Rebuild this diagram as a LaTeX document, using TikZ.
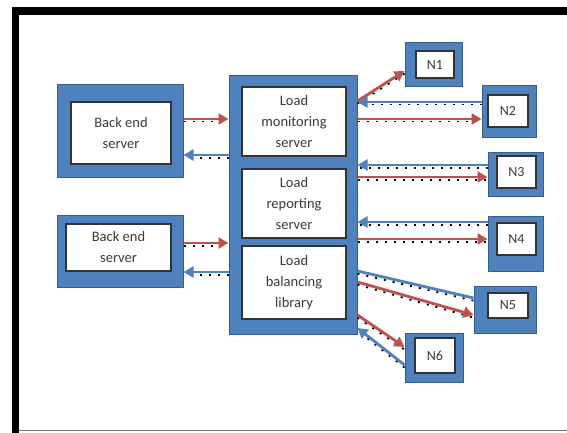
\documentclass[tikz,border=0pt]{standalone}
\usepackage{fontspec}
\setmainfont{Carlito}
\usetikzlibrary{arrows.meta}
\definecolor{obl}{HTML}{4F81BD}
\definecolor{obld}{HTML}{385D8A}
\definecolor{ored}{HTML}{C0504D}
\definecolor{txt}{HTML}{3A3A3A}
\tikzset{
  outerbox/.style={draw=obld, fill=obl, line width=1pt, inner sep=0pt},
  innerbox/.style={draw=black!80, fill=white, line width=1.2pt, inner sep=0pt, align=center,
    text=txt, font=\fontsize{14.5}{21}\selectfont},
  nbox/.style={innerbox, font=\fontsize{14}{15}\selectfont},
  dotshadow/.style={preaction={draw=black, line width=1.8pt, dash pattern=on 2pt off 7pt, arrows=-,
    transform canvas={yshift=-2.6pt}}},
  redarr/.style={draw=ored, line width=2.8pt, -{Triangle[length=10pt,width=11pt]}, dotshadow},
  bluarr/.style={draw=obl, line width=2.8pt, -{Triangle[length=10pt,width=11pt]}, dotshadow},
  bluline/.style={draw=obl, line width=2.8pt, dotshadow},
}
\begin{document}
\begin{tikzpicture}[x=1pt,y=-1pt]
\useasboundingbox (0,0) rectangle (567,433);
% frame
\fill[black] (12,7) rectangle (19,433);
\fill[black] (12,7) rectangle (567,15);
\fill[black!55] (19,429.5) rectangle (567,431);
% back end servers
\node[outerbox, minimum width=126pt, minimum height=92pt] (b1o) at (120,131) {};
\node[innerbox, minimum width=100pt, minimum height=62pt] (b1) at (121,133) {Back end\\server};
\node[outerbox, minimum width=126pt, minimum height=72pt] (b2o) at (120,251) {};
\node[innerbox, minimum width=105pt, minimum height=47pt] (b2) at (118.5,247.5) {Back end\\server};
% central
\node[outerbox, minimum width=128pt, minimum height=258pt] (co) at (293,205) {};
\node[innerbox, minimum width=104pt, minimum height=69pt] (mon) at (294,121.5) {Load\\monitoring\\server};
\node[innerbox, minimum width=104pt, minimum height=69pt] (rep) at (294,203.5) {Load\\reporting\\server};
\node[innerbox, minimum width=104pt, minimum height=73pt] (bal) at (294,282.5) {Load\\balancing\\library};
% N nodes
\node[outerbox, minimum width=57pt, minimum height=44pt] (n1o) at (433.5,65) {};
\node[nbox, minimum width=38pt, minimum height=27pt] (n1) at (435,64.5) {N1};
\node[outerbox, minimum width=54pt, minimum height=51pt] (n2o) at (509,111.5) {};
\node[nbox, minimum width=40pt, minimum height=32pt] (n2) at (508,111) {N2};
\node[outerbox, minimum width=55pt, minimum height=44pt] (n3o) at (515.5,174) {};
\node[nbox, minimum width=39pt, minimum height=32pt] (n3) at (516.5,172) {N3};
\node[outerbox, minimum width=55pt, minimum height=55pt] (n4o) at (515.5,243.5) {};
\node[nbox, minimum width=39pt, minimum height=32pt] (n4) at (516.5,239) {N4};
\node[outerbox, minimum width=62pt, minimum height=47pt] (n5o) at (505,309.5) {};
\node[nbox, minimum width=40pt, minimum height=25pt] (n5) at (508,305.5) {N5};
\node[outerbox, minimum width=58pt, minimum height=49pt] (n6o) at (434,357.5) {};
\node[nbox, minimum width=40pt, minimum height=35pt] (n6) at (435,355.5) {N6};
% left connectors
\draw[redarr] (b1o.east |- 0,119) -- (co.west |- 0,119);
\draw[bluarr] (co.west |- 0,155) -- (b1o.east |- 0,155);
\draw[redarr] (b2o.east |- 0,243) -- (co.west |- 0,243);
\draw[bluarr] (co.west |- 0,272) -- (b2o.east |- 0,272);
% right connectors
\draw[redarr] (co.east |- 0,101) -- (n1o.west |- 0,71);
\draw[bluarr] (n2o.west |- 0,102) -- (co.east |- 0,102);
\draw[redarr] (co.east |- 0,119) -- (n2o.west |- 0,119);
\draw[bluarr] (n3o.west |- 0,165) -- (co.east |- 0,165);
\draw[redarr] (co.east |- 0,177) -- (n3o.west |- 0,177);
\draw[bluarr] (n4o.west |- 0,222) -- (co.east |- 0,222);
\draw[redarr] (co.east |- 0,239) -- (n4o.west |- 0,239);
\draw[bluline] (co.east |- 0,271) -- (n5o.west |- 0,298);
\draw[redarr] (co.east |- 0,282) -- (n5o.west |- 0,315);
\draw[redarr] (co.east |- 0,315) -- (n6o.west |- 0,347);
\draw[bluarr] (n6o.west |- 0,365) -- (co.east |- 0,328);
\end{tikzpicture}
\end{document}
